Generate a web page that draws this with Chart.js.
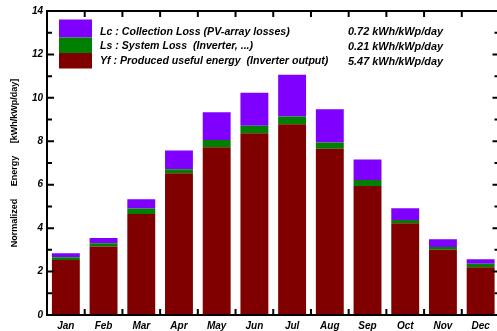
<!DOCTYPE html>
<html><head><meta charset="utf-8">
<script src="https://cdn.jsdelivr.net/npm/chart.js@4.4.1/dist/chart.umd.min.js"></script>
<style>
html,body{margin:0;padding:0;background:#fff;overflow:hidden;width:497px;height:331px;}
#wrap{position:absolute;left:0;top:0;width:502px;height:331px;}
</style></head><body>
<div id="wrap"><canvas id="c" width="502" height="331"></canvas></div>
<script>
const months = ['Jan','Feb','Mar','Apr','May','Jun','Jul','Aug','Sep','Oct','Nov','Dec'];
const yfProduced = [2.53,3.15,4.65,6.53,7.73,8.37,8.79,7.66,5.94,4.23,3.00,2.20];
const lsSystem   = [0.13,0.15,0.25,0.18,0.33,0.34,0.35,0.28,0.28,0.15,0.13,0.16];
const lcCollect  = [0.18,0.25,0.43,0.86,1.28,1.53,1.92,1.54,0.94,0.54,0.36,0.21];
const legendLabels = ['Lc : Collection Loss (PV-array losses)','Ls : System Loss  (Inverter, ...)','Yf : Produced useful energy  (Inverter output)'];
const legendValues = ['0.72 kWh/kWp/day','0.21 kWh/kWp/day','5.47 kWh/kWp/day'];
const yTitle = 'Normalized     Energy     [kWh/kWp/day]';

const C_LC = '#8000ff', C_LS = '#008000', C_YF = '#800000';
const FONT = "'Liberation Sans', Arial, sans-serif";

const framePlugin = {
  id:'frame',
  afterDraw(chart){
    const ctx = chart.ctx, a = chart.chartArea;
    const x = chart.scales.x, y = chart.scales.y;
    ctx.save();
    ctx.strokeStyle = '#000';
    ctx.lineWidth = 2;
    ctx.strokeRect(a.left, a.top, a.right - a.left, a.bottom - a.top);
    ctx.beginPath();
    for (let v = 0; v <= 14; v++) {
      const py = y.getPixelForValue(v);
      const len = v % 2 === 0 ? 7 : 5;
      ctx.moveTo(a.left, py); ctx.lineTo(a.left + len, py);
      ctx.moveTo(a.right, py); ctx.lineTo(a.right - len, py);
    }
    for (let i = 0; i < months.length - 1; i++) {
      const px = (x.getPixelForValue(i) + x.getPixelForValue(i + 1)) / 2;
      ctx.moveTo(px, a.bottom); ctx.lineTo(px, a.bottom - 6);
      ctx.moveTo(px, a.top); ctx.lineTo(px, a.top + 6);
    }
    ctx.stroke();
    // legend
    const colors = [C_LC, C_LS, C_YF];
    const boxes = [[19.5,37.5],[37.5,53],[53,68.5]];
    boxes.forEach((b, i) => {
      ctx.fillStyle = colors[i];
      ctx.fillRect(59, b[0], 33, b[1] - b[0]);
    });
    ctx.fillStyle = '#000';
    ctx.textBaseline = 'middle';
    ctx.textAlign = 'left';
    const ys = [32, 46.5, 61.5];
    ctx.font = "italic bold 10.6px " + FONT;
    legendLabels.forEach((t, i) => ctx.fillText(t, 100, ys[i]));
    ctx.font = "italic bold 10.9px " + FONT;
    legendValues.forEach((t, i) => ctx.fillText(t, 348, ys[i]));
    ctx.restore();
  }
};

new Chart(document.getElementById('c'), {
  type:'bar',
  data:{
    labels: months,
    datasets:[
      {label:'Yf', data:yfProduced, backgroundColor:C_YF, stack:'s'},
      {label:'Ls', data:lsSystem, backgroundColor:C_LS, stack:'s'},
      {label:'Lc', data:lcCollect, backgroundColor:C_LC, stack:'s'}
    ]
  },
  options:{
    responsive:false,
    animation:false,
    layout:{padding:{top:11, right:2.5, left:0, bottom:0}},
    plugins:{legend:{display:false}, tooltip:{enabled:false}},
    datasets:{bar:{barPercentage:0.74, categoryPercentage:1.0}},
    scales:{
      x:{
        stacked:true,
        grid:{display:false, drawTicks:false},
        border:{display:false},
        ticks:{color:'#000', font:{family:FONT, size:10, style:'italic', weight:'bold'}, padding:5, maxRotation:0},
        afterFit(s){ s.height = 16; }
      },
      y:{
        stacked:true, min:0, max:14,
        grid:{display:false, drawTicks:false},
        border:{display:false},
        ticks:{stepSize:1, autoSkip:false, color:'#000', padding:4,
          font:{family:FONT, size:10, style:'italic', weight:'bold'},
          callback:(v)=> v % 2 === 0 ? String(v) : ''},
        title:{display:true, text:yTitle, color:'#000', font:{family:FONT, size:9, weight:'bold'}, padding:{top:9,bottom:0}},
        afterFit(s){ s.width = 47; }
      }
    }
  },
  plugins:[framePlugin]
});
</script>
</body></html>
